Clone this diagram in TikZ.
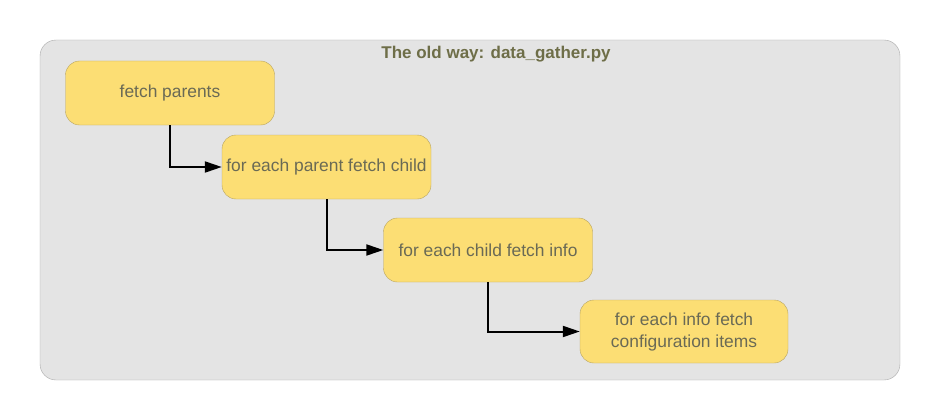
\documentclass[tikz,border=0pt]{standalone}
\usepackage{fontspec}
\setmainfont{Liberation Sans}
\usetikzlibrary{arrows.meta}
\definecolor{panelgray}{HTML}{E4E4E4}
\definecolor{panelline}{HTML}{A8A8A8}
\definecolor{stepfill}{HTML}{FCDE74}
\definecolor{stepline}{HTML}{B8A460}
\definecolor{steptext}{HTML}{6A6A55}
\definecolor{titletext}{HTML}{6E6E48}
\tikzset{
	stepbox/.style={draw=stepline, fill=stepfill, rounded corners=14pt, text=steptext,
		minimum width=209pt, minimum height=64pt, align=center, inner sep=2pt,
		font=\fontsize{17.4}{22}\selectfont},
	flow/.style={line width=2pt, -{Triangle[length=17pt,width=11pt]}}
}
\begin{document}
\begin{tikzpicture}[x=1pt, y=-1pt]
		%%%%% START %%%%%
		
		\useasboundingbox (0, 0) rectangle (940, 420);
		
		\draw[panelline, fill=panelgray, rounded corners=16pt] (40, 40) rectangle (900, 380);
		\node[text=titletext, font=\bfseries\fontsize{17}{20}\selectfont] (title) at (496, 54) {The old way: data\_gather.py};
		
		\node[stepbox] (parents) at (170, 93) {fetch parents};
		\node[stepbox] (child) at (326.5, 167) {for each parent fetch child};
		\node[stepbox] (info) at (488, 250) {for each child fetch info};
		\node[stepbox, minimum width=208pt, minimum height=63pt] (items) at (684, 331.5) {for each info fetch\\configuration items};
		
		\draw[flow] (parents.south) |- (child.west);
		\draw[flow] (child.south) |- (info.west);
		\draw[flow] (info.south) |- (items.west);
		
		%%%%% END %%%%%
	\end{tikzpicture}
\end{document}
